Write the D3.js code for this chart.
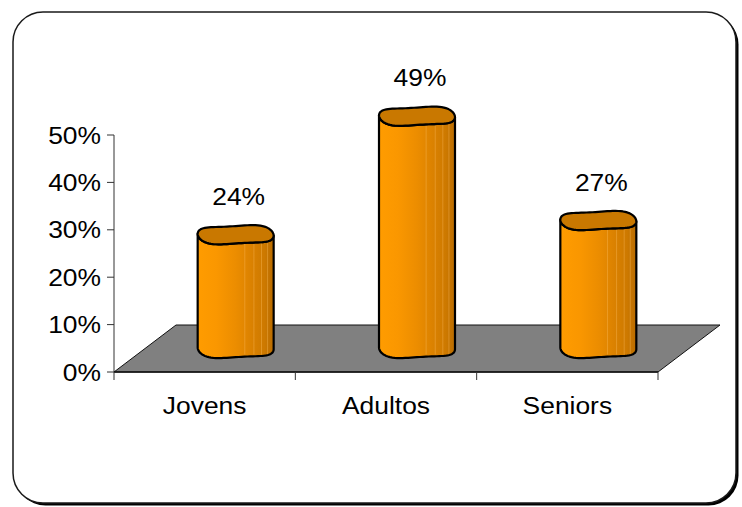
<!DOCTYPE html>
<html>
<head>
<meta charset="utf-8">
<script src="https://cdn.jsdelivr.net/npm/d3@7"></script>
<style>
  html, body { margin: 0; padding: 0; background: #fff; }
  svg { display: block; }
  text { font-family: "Liberation Sans", Arial, sans-serif; fill: #000; }
</style>
</head>
<body>
<svg id="chart" width="742" height="507"></svg>
<script>
// Age groups and their share
const categories = ["Jovens", "Adultos", "Seniors"];
const values = [0.24, 0.49, 0.27];
const valueLabels = ["24%", "49%", "27%"];
const yTicks = [0, 0.1, 0.2, 0.3, 0.4, 0.5];

const svg = d3.select("#chart");
const FONT = 24, STRETCH = 1.1;

// text placed at (px, py), slightly widened horizontally
function label(parent, px, py, str, anchor, dy) {
  return parent.append("text")
    .attr("transform", `translate(${px},${py}) scale(${STRETCH},1)`)
    .attr("text-anchor", anchor).attr("dy", dy || 0)
    .attr("font-size", FONT).text(str);
}

// Rounded chart-area frame with its drop shadow
const frame = { x: 13, y: 12, w: 723, h: 491, r: 30 };
svg.append("rect")
  .attr("x", frame.x + 2.5).attr("y", frame.y + 2.5)
  .attr("width", frame.w).attr("height", frame.h)
  .attr("rx", frame.r).attr("fill", "#000");
svg.append("rect")
  .attr("x", frame.x).attr("y", frame.y)
  .attr("width", frame.w).attr("height", frame.h)
  .attr("rx", frame.r).attr("fill", "#fff")
  .attr("stroke", "#1a1a1a").attr("stroke-width", 1.5);

// Scales for the front plane; the depth offset pushes marks back
const x = d3.scaleBand().domain(categories).range([114, 658]).padding(0);
const y = d3.scaleLinear().domain([0, 0.5]).range([372, 135]);
const depth = { dx: 62, dy: -47 };
const mid = { dx: depth.dx / 2, dy: depth.dy / 2 };

const defs = svg.append("defs");
const grad = defs.append("linearGradient").attr("id", "body")
  .attr("x1", 0).attr("x2", 1).attr("y1", 0).attr("y2", 0);
[[0, "#ff9c00"], [0.25, "#fa9700"], [0.5, "#ec8d00"], [0.72, "#da8100"], [0.88, "#cd7900"], [1, "#b96c00"]]
  .forEach(([o, c]) => grad.append("stop").attr("offset", o).attr("stop-color", c));

// Grey floor
const x0 = x.range()[0], x1 = x.range()[1], yb = y(0);
svg.append("path")
  .attr("d", `M${x0},${yb} L${x1},${yb} L${x1 + depth.dx},${yb + depth.dy} L${x0 + depth.dx},${yb + depth.dy} Z`)
  .attr("fill", "#808080").attr("stroke", "#111").attr("stroke-width", 1);

// Value axis
const yAxis = svg.append("g").attr("transform", `translate(${x0},0)`);
yAxis.append("line").attr("x1", 0).attr("x2", 0)
  .attr("y1", y(0.5)).attr("y2", y(0)).attr("stroke", "#333").attr("stroke-width", 1);
yAxis.selectAll("line.tick").data(yTicks).join("line").attr("class", "tick")
  .attr("x1", -7).attr("x2", 0).attr("y1", d => y(d)).attr("y2", d => y(d))
  .attr("stroke", "#333");
yTicks.forEach(d => label(yAxis, -13, y(d), d3.format(".0%")(d), "end", "0.36em"));

// Category axis line, ticks, labels
const cat = svg.append("g");
cat.append("line").attr("x1", x0).attr("x2", x1).attr("y1", yb).attr("y2", yb)
  .attr("stroke", "#111").attr("stroke-width", 1.5);
const bounds = categories.map(c => x(c)).concat([x1]);
cat.selectAll("line.tick").data(bounds).join("line").attr("class", "tick")
  .attr("x1", d => d).attr("x2", d => d).attr("y1", yb).attr("y2", yb + 8)
  .attr("stroke", "#333");
categories.forEach(c => label(cat, x(c) + x.bandwidth() / 2, 414, c, "middle"));

// Cylinders
const rx = 38, ry = 10;
function capPt(cx, cy, t) {
  const wob = 1.6 * Math.sin(3 * t + 0.6);
  return [cx + rx * Math.cos(t), cy + ry * Math.sin(t) + wob];
}
function arc(cx, cy, t0, t1, n) {
  const pts = [];
  for (let i = 0; i <= n; i++) pts.push(capPt(cx, cy, t0 + (t1 - t0) * i / n));
  return pts;
}
const line = d3.line();

const bars = svg.append("g");
categories.forEach((c, i) => {
  const cx = x(c) + x.bandwidth() / 2 + mid.dx;
  const yTop = y(values[i]) + mid.dy;
  const yBot = y(0) + mid.dy;
  // body: left side down, front of base, right side up, front of top back to start
  const front = arc(cx, yBot, Math.PI, 0, 40);
  const topFront = arc(cx, yTop, 0, Math.PI, 40);
  const bodyPts = [[cx - rx, yTop]].concat(front).concat(topFront);
  bars.append("path").attr("d", line(bodyPts) + "Z")
    .attr("fill", "url(#body)");
  // faint vertical facet lines
  [0.62, 0.74, 0.84, 0.92].forEach(f => {
    const lx = cx - rx + 2 * rx * f;
    bars.append("line").attr("x1", lx).attr("x2", lx)
      .attr("y1", yTop + 6).attr("y2", yBot + 6)
      .attr("stroke", "#ffc266").attr("stroke-opacity", 0.45).attr("stroke-width", 0.8);
  });
  bars.append("path").attr("d", line(bodyPts) + "Z")
    .attr("fill", "none").attr("stroke", "#000").attr("stroke-width", 2.2)
    .attr("stroke-linejoin", "round");
  // top cap
  const cap = arc(cx, yTop, 0, 2 * Math.PI, 80);
  bars.append("path").attr("d", line(cap) + "Z")
    .attr("fill", "#c97800").attr("stroke", "#000").attr("stroke-width", 2.2)
    .attr("stroke-linejoin", "round");
  // value label
  label(bars, cx + 3, yTop - 30, valueLabels[i], "middle");
});
</script>
</body>
</html>
